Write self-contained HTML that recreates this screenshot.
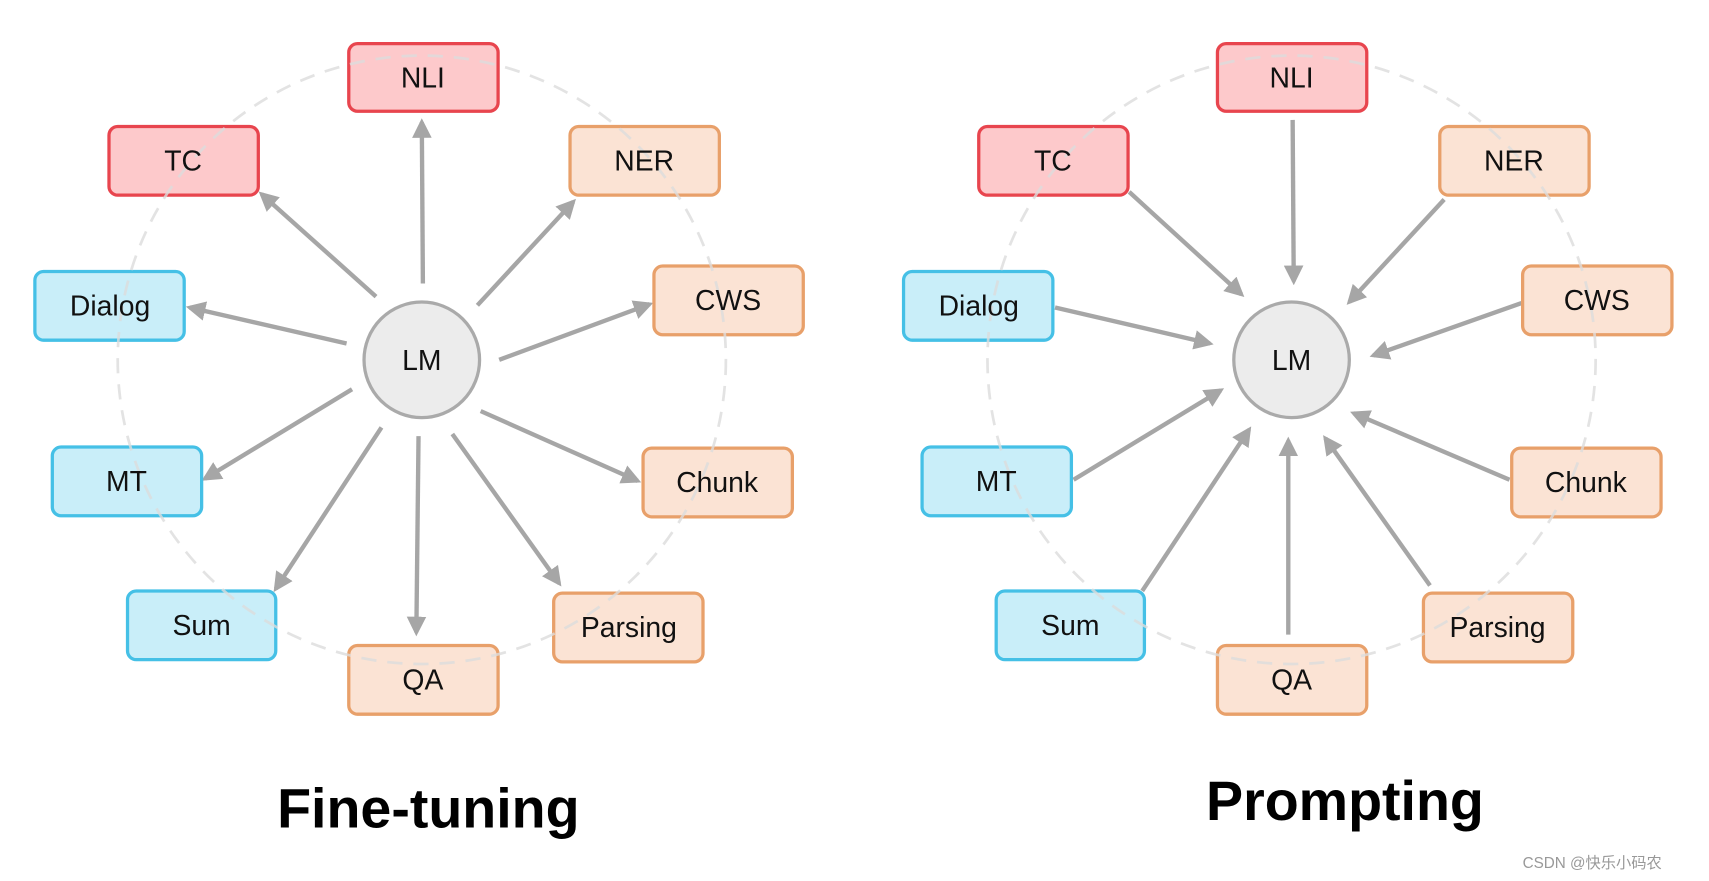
<!DOCTYPE html>
<html><head><meta charset="utf-8"><style>
html,body{margin:0;padding:0;background:#fff;width:1709px;height:881px;overflow:hidden}
svg{display:block}
.t{font-family:"Liberation Sans",sans-serif;font-size:26px;fill:#111;text-anchor:middle;dominant-baseline:central}
.r{fill:#fdc9cb;stroke:#e8454e;stroke-width:3}
.o{fill:#fbe3d4;stroke:#e8a06a;stroke-width:3}
.b{fill:#c9eef9;stroke:#45c0e6;stroke-width:3}
.a{stroke:#a6a6a6;stroke-width:4;fill:none;marker-end:url(#h)}
.d{fill:none;stroke:#dcdcdc;stroke-width:2.5;stroke-dasharray:14 10;opacity:0.8}
.title{font-family:"Liberation Sans",sans-serif;font-weight:bold;font-size:51px;fill:#000;text-anchor:middle}
</style></head><body>
<svg width="1709" height="881" viewBox="0 0 1568 808" preserveAspectRatio="none">
<defs><marker id="h" viewBox="0 0 10 10" refX="8" refY="5" markerWidth="4.5" markerHeight="4.5" orient="auto" markerUnits="strokeWidth"><path d="M0,0 L10,5 L0,10 z" fill="#a6a6a6"/></marker></defs>

<g>
<line class="a" x1="388" y1="260" x2="387" y2="112"/>
<line class="a" x1="345" y1="272" x2="240" y2="178"/>
<line class="a" x1="438" y1="280" x2="526" y2="185"/>
<line class="a" x1="318" y1="315" x2="174" y2="282"/>
<line class="a" x1="458" y1="330" x2="596" y2="279"/>
<line class="a" x1="323" y1="357" x2="188" y2="439"/>
<line class="a" x1="441" y1="377" x2="585" y2="441"/>
<line class="a" x1="350" y1="392" x2="253" y2="540"/>
<line class="a" x1="415" y1="398" x2="513" y2="535"/>
<line class="a" x1="384" y1="400" x2="382" y2="580"/>
<circle cx="387" cy="330" r="53" fill="#ececec" stroke="#aaa" stroke-width="3"/>
<text class="t" x="387" y="331">LM</text>
<rect class="r" x="320" y="40" width="137" height="62" rx="8"/>
<rect class="r" x="100" y="116" width="137" height="63" rx="8"/>
<rect class="o" x="523" y="116" width="137" height="63" rx="8"/>
<rect class="b" x="32" y="249" width="137" height="63" rx="8"/>
<rect class="o" x="600" y="244" width="137" height="63" rx="8"/>
<rect class="b" x="48" y="410" width="137" height="63" rx="8"/>
<rect class="o" x="590" y="411" width="137" height="63" rx="8"/>
<rect class="b" x="117" y="542" width="136" height="63" rx="8"/>
<rect class="o" x="508" y="544" width="137" height="63" rx="8"/>
<rect class="o" x="320" y="592" width="137" height="63" rx="8"/>
<circle class="d" cx="387" cy="330" r="279"/>
<text class="t" x="388" y="72">NLI</text>
<text class="t" x="168" y="148">TC</text>
<text class="t" x="591" y="148">NER</text>
<text class="t" x="101" y="281">Dialog</text>
<text class="t" x="668" y="276">CWS</text>
<text class="t" x="116" y="442">MT</text>
<text class="t" x="658" y="443">Chunk</text>
<text class="t" x="185" y="574">Sum</text>
<text class="t" x="577" y="576">Parsing</text>
<text class="t" x="388" y="624">QA</text>
<text class="title" x="393" y="759">Fine-tuning</text>
</g>

<g>
<line class="a" x1="1186" y1="110" x2="1187" y2="258"/>
<line class="a" x1="1036" y1="176" x2="1139" y2="270"/>
<line class="a" x1="1325" y1="183" x2="1238" y2="277"/>
<line class="a" x1="968" y1="282" x2="1110" y2="315"/>
<line class="a" x1="1396" y1="278" x2="1260" y2="326"/>
<line class="a" x1="985" y1="440" x2="1120" y2="358"/>
<line class="a" x1="1385" y1="440" x2="1242" y2="379"/>
<line class="a" x1="1048" y1="542" x2="1146" y2="394"/>
<line class="a" x1="1312" y1="537" x2="1216" y2="402"/>
<line class="a" x1="1182" y1="582" x2="1182" y2="404"/>
<circle cx="1185" cy="330" r="53" fill="#ececec" stroke="#aaa" stroke-width="3"/>
<text class="t" x="1185" y="331">LM</text>
<rect class="r" x="1117" y="40" width="137" height="62" rx="8"/>
<rect class="r" x="898" y="116" width="137" height="63" rx="8"/>
<rect class="o" x="1321" y="116" width="137" height="63" rx="8"/>
<rect class="b" x="829" y="249" width="137" height="63" rx="8"/>
<rect class="o" x="1397" y="244" width="137" height="63" rx="8"/>
<rect class="b" x="846" y="410" width="137" height="63" rx="8"/>
<rect class="o" x="1387" y="411" width="137" height="63" rx="8"/>
<rect class="b" x="914" y="542" width="136" height="63" rx="8"/>
<rect class="o" x="1306" y="544" width="137" height="63" rx="8"/>
<rect class="o" x="1117" y="592" width="137" height="63" rx="8"/>
<circle class="d" cx="1185" cy="330" r="279"/>
<text class="t" x="1185" y="72">NLI</text>
<text class="t" x="966" y="148">TC</text>
<text class="t" x="1389" y="148">NER</text>
<text class="t" x="898" y="281">Dialog</text>
<text class="t" x="1465" y="276">CWS</text>
<text class="t" x="914" y="442">MT</text>
<text class="t" x="1455" y="443">Chunk</text>
<text class="t" x="982" y="574">Sum</text>
<text class="t" x="1374" y="576">Parsing</text>
<text class="t" x="1185" y="624">QA</text>
<text class="title" x="1234" y="752">Prompting</text>
<text x="1397" y="796" style="font-family:'Liberation Sans','Noto Sans CJK SC',sans-serif;font-size:14px;fill:#999">CSDN @快乐小码农</text>
</g>
</svg>
</body></html>
